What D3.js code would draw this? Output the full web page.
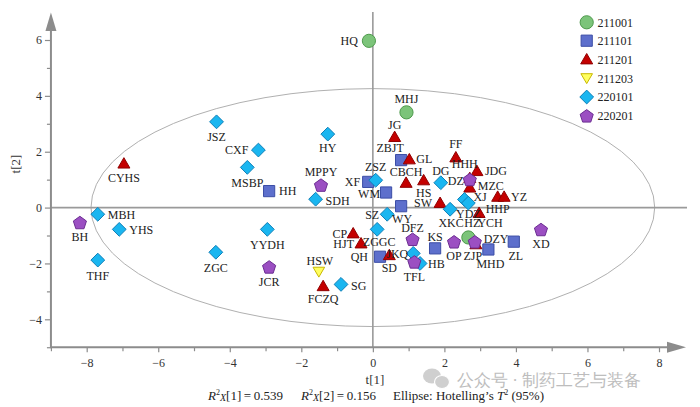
<!DOCTYPE html>
<html>
<head>
<meta charset="utf-8">
<script src="https://cdn.jsdelivr.net/npm/d3@7"></script>
<style>
  html, body { margin: 0; padding: 0; background: #fff; }
  svg { display: block; }
  text { font-family: "Liberation Serif", "Times New Roman", serif; }
</style>
</head>
<body>
<svg id="chart" width="700" height="407"></svg>
<script>
// ---------------- DATA ----------------
const seriesNames = ['211001', '211101', '211201', '211203', '220101', '220201'];

const n211001 = ['HQ', 'MHJ', 'HZ'];
const t1_211001 = [-0.11, 0.94, 2.67];
const t2_211001 = [5.97, 3.41, -1.07];

const n211101 = ['HH', 'XF', 'WM', 'ZBJT', 'WY', 'KS', 'QH', 'MHD', 'ZL'];
const t1_211101 = [-2.90, -0.13, 0.37, 0.79, 0.79, 1.74, 0.20, 3.23, 3.94];
const t2_211101 = [0.59, 0.92, 0.54, 1.70, 0.05, -1.46, -1.76, -1.50, -1.22];

const n211201 = ['CYHS', 'JG', 'GL', 'CBCH', 'HS', 'FF', 'HHH', 'JDG', 'MZC', 'HHP', 'YZ', 'SW', 'YCH', 'CP', 'HJT', 'SD', 'FCZQ', 'DZY'];
const t1_211201 = [-6.96, 0.61, 1.02, 0.93, 1.42, 2.32, 2.71, 2.91, 2.71, 3.49, 3.67, 1.88, 2.97, -0.55, -0.33, 0.46, -1.39, 2.88];
const t2_211201 = [1.58, 2.53, 1.73, 0.89, 0.98, 1.80, 1.06, 1.31, 0.72, 0.39, 0.39, 0.17, -0.19, -0.92, -1.28, -1.70, -2.81, -1.31];

const n211203 = ['HSW'];
const t1_211203 = [-1.51];
const t2_211203 = [-2.30];

const n220101 = ['JSZ', 'CXF', 'MSBP', 'HY', 'ZSZ', 'SDH', 'DG', 'XKC', 'XJ', 'YDZ', 'SZ', 'ZGGC', 'JKQ', 'HB', 'MBH', 'YHS', 'THF', 'ZGC', 'YYDH', 'SG'];
const t1_220101 = [-4.37, -3.20, -3.51, -1.26, 0.08, -1.60, 1.90, 2.16, 2.56, 2.67, 0.40, 0.12, 1.13, 1.32, -7.69, -7.09, -7.69, -4.39, -2.95, -0.89];
const t2_220101 = [3.07, 2.06, 1.44, 2.63, 0.98, 0.30, 0.89, -0.06, 0.29, 0.16, -0.24, -0.78, -1.64, -2.00, -0.24, -0.78, -1.88, -1.60, -0.78, -2.75];

const n220201 = ['BH', 'MPPY', 'DZ', 'DFZ', 'TFL', 'OP', 'ZJP', 'JCR', 'XD'];
const t1_220201 = [-8.19, -1.45, 2.71, 1.11, 1.16, 2.27, 2.85, -2.90, 4.70];
const t2_220201 = [-0.53, 0.81, 1.01, -1.13, -1.94, -1.22, -1.22, -2.12, -0.78];

const xTickLabels = [-8, -6, -4, -2, 0, 2, 4, 6, 8];
const yTickLabels = [-4, -2, 0, 2, 4, 6];

// Hotelling's T2 (95%) ellipse semi-axes (t[1], t[2])
const ellipseT1 = 7.88;
const ellipseT2 = 4.26;

const r2x1 = '0.539';
const r2x2 = '0.156';

// ---------------- LAYOUT (label placement: anchor, dx, dy in px) ----------------
const labelLayout = {
  HQ: ['end', -11, 0], MHJ: ['middle', 0, -14], HZ: ['middle', 4, -15],
  HH: ['start', 10, 0], XF: ['end', -8, 0], WM: ['end', -6, 1], ZBJT: ['middle', -11, -12],
  WY: ['middle', 1, 13], KS: ['middle', 0, -12], QH: ['end', -12, 0], MHD: ['middle', 2, 14], ZL: ['middle', 2, 14],
  CYHS: ['middle', 0, 14], JG: ['middle', 0, -12], GL: ['start', 7, -1], CBCH: ['middle', 0, -11],
  HS: ['middle', 0, 12], FF: ['middle', 0, -14], HHH: ['middle', -5, -14], JDG: ['start', 8, 0],
  MZC: ['start', 8, -2], HHP: ['middle', 0, 12], YZ: ['start', 7, 0], SW: ['end', -8, 0],
  YCH: ['middle', 11, 10], CP: ['end', -6, 0], HJT: ['end', -7, 0], SD: ['middle', 0, 13],
  FCZQ: ['middle', 0, 13], DZY: ['start', 8, -5],
  HSW: ['middle', 1, -11],
  JSZ: ['middle', 0, 15], CXF: ['end', -10, 0], MSBP: ['middle', 0, 15], HY: ['middle', 0, 14],
  ZSZ: ['middle', 0, -14], SDH: ['start', 10, 1], DG: ['middle', 0, -12], XKC: ['middle', 1, 13],
  XJ: ['start', 9, -3], YDZ: ['middle', 0, 11], SZ: ['end', -8, 0], ZGGC: ['middle', 2, 12],
  JKQ: ['end', -5, 0], HB: ['start', 8, 0], MBH: ['start', 10, 0], YHS: ['start', 10, 0],
  THF: ['middle', 0, 16], ZGC: ['middle', 0, 15], YYDH: ['middle', 0, 15], SG: ['start', 10, 1],
  BH: ['middle', 0, 14], MPPY: ['middle', 0, -13], DZ: ['end', -6, 1], DFZ: ['middle', 0, -11],
  TFL: ['middle', 0, 15], OP: ['middle', 0, 14], ZJP: ['middle', -2, 14], JCR: ['middle', 0, 15], XD: ['middle', 0, 14]
};

// ---------------- SETUP ----------------
const svg = d3.select('#chart');
const x = d3.scaleLinear().domain([-8, 8]).range([86.7, 659]);
const y = d3.scaleLinear().domain([-4, 6]).range([319.3, 40]);

const axisColor = '#8c8c8c';
const xAxisY = y(-5);
const yAxisX = x(-9);

// ellipse
svg.append('ellipse')
  .attr('cx', x(0)).attr('cy', y(0))
  .attr('rx', x(ellipseT1) - x(0))
  .attr('ry', y(0) - y(ellipseT2))
  .attr('fill', 'none').attr('stroke', '#b0b0b0').attr('stroke-width', 1);

// zero lines
svg.append('line').attr('x1', yAxisX).attr('x2', 687).attr('y1', y(0)).attr('y2', y(0))
  .attr('stroke', '#9a9a9a').attr('stroke-width', 1.6);
svg.append('line').attr('x1', x(0)).attr('x2', x(0)).attr('y1', 12).attr('y2', xAxisY)
  .attr('stroke', '#9a9a9a').attr('stroke-width', 1.6);

// axes
const minusFmt = d => (d < 0 ? '\u2212' + Math.abs(d) : String(d));

const gx = svg.append('g').attr('transform', `translate(0,${xAxisY})`)
  .call(d3.axisBottom(x).tickValues(xTickLabels).tickSize(5).tickPadding(6).tickFormat(minusFmt));
const gxm = svg.append('g').attr('transform', `translate(0,${xAxisY})`)
  .call(d3.axisBottom(x).tickValues([-9, -7, -5, -3, -1, 1, 3, 5, 7]).tickSize(4).tickFormat(''));
const gy = svg.append('g').attr('transform', `translate(${yAxisX},0)`)
  .call(d3.axisLeft(y).tickValues(yTickLabels).tickSize(6).tickPadding(3).tickFormat(minusFmt));
const gym = svg.append('g').attr('transform', `translate(${yAxisX},0)`)
  .call(d3.axisLeft(y).tickValues([-5, -3, -1, 1, 3, 5]).tickSize(4).tickFormat(''));

[gx, gxm, gy, gym].forEach(g => {
  g.select('.domain').remove();
  g.selectAll('.tick line').attr('stroke', axisColor).attr('stroke-width', 1.2);
  g.selectAll('.tick text').attr('fill', '#333').attr('font-size', 12)
    .attr('font-family', '"Liberation Serif", "Times New Roman", serif');
});

// axis lines with arrows
svg.append('line').attr('x1', yAxisX).attr('x2', 670).attr('y1', xAxisY).attr('y2', xAxisY)
  .attr('stroke', axisColor).attr('stroke-width', 2);
svg.append('path').attr('d', `M686,${xAxisY} L667,${xAxisY - 5.5} L667,${xAxisY + 5.5} Z`).attr('fill', axisColor);
svg.append('line').attr('x1', yAxisX).attr('x2', yAxisX).attr('y1', xAxisY + 1).attr('y2', 28)
  .attr('stroke', axisColor).attr('stroke-width', 2);
svg.append('path').attr('d', `M${yAxisX},12.5 L${yAxisX - 5.5},31 L${yAxisX + 5.5},31 Z`).attr('fill', axisColor);

// axis titles
svg.append('text').attr('x', 375).attr('y', 384).attr('text-anchor', 'middle')
  .attr('font-size', 13).attr('fill', '#333').text('t[1]');
svg.append('text').attr('transform', 'translate(20,164) rotate(-90)').attr('text-anchor', 'middle')
  .attr('font-size', 13).attr('fill', '#333').text('t[2]');

// ---------------- SHAPES ----------------
function pentagonPath(r) {
  const pts = d3.range(5).map(k => {
    const a = (-90 + k * 72) * Math.PI / 180;
    return [r * Math.cos(a), r * Math.sin(a) + 0.8];
  });
  return 'M' + pts.map(p => p.join(',')).join('L') + 'Z';
}
const styles = {
  '211001': { d: null, fill: '#7cc47a', stroke: '#4e9a4c' },
  '211101': { d: 'M-5.6,-5.6H5.6V5.6H-5.6Z', fill: '#5d6fcc', stroke: '#3c4ea6' },
  '211201': { d: 'M0,-5.8L6,4.6L-6,4.6Z', fill: '#c40000', stroke: '#900000' },
  '211203': { d: 'M0,5.3L5.8,-4.6L-5.8,-4.6Z', fill: '#ffff5e', stroke: '#c9b800' },
  '220101': { d: 'M0,-6.9L6.9,0L0,6.9L-6.9,0Z', fill: '#1ab6f0', stroke: '#0f80b8' },
  '220201': { d: pentagonPath(6.9), fill: '#9b4fc2', stroke: '#6c2e92' }
};
function drawMarker(g, s, cx, cy) {
  const st = styles[s];
  if (st.d === null) {
    g.append('circle').attr('cx', cx).attr('cy', cy).attr('r', 6.6)
      .attr('fill', st.fill).attr('stroke', st.stroke).attr('stroke-width', 1);
  } else {
    g.append('path').attr('d', st.d).attr('transform', `translate(${cx},${cy})`)
      .attr('fill', st.fill).attr('stroke', st.stroke).attr('stroke-width', 1);
  }
}

const groups = [
  ['211001', n211001, t1_211001, t2_211001],
  ['211101', n211101, t1_211101, t2_211101],
  ['211201', n211201, t1_211201, t2_211201],
  ['211203', n211203, t1_211203, t2_211203],
  ['220101', n220101, t1_220101, t2_220101],
  ['220201', n220201, t1_220201, t2_220201]
];

const gPts = svg.append('g');
const gLab = svg.append('g');
groups.forEach(([s, names, t1, t2]) => {
  names.forEach((nm, i) => {
    const cx = x(t1[i]), cy = y(t2[i]);
    drawMarker(gPts, s, cx, cy);
    const L = labelLayout[nm] || ['middle', 0, 14];
    gLab.append('text').attr('x', cx + L[1]).attr('y', cy + L[2] + 4.3)
      .attr('text-anchor', L[0]).attr('font-size', 12).attr('fill', '#222').text(nm);
  });
});

// ---------------- LEGEND ----------------
const legendY = [22.3, 40.7, 59.3, 78.3, 97, 115.7];
const gLeg = svg.append('g');
seriesNames.forEach((s, i) => {
  drawMarker(gLeg, s, 586.7, legendY[i]);
  gLeg.append('text').attr('x', 597.5).attr('y', legendY[i] + 4.3)
    .attr('font-size', 12).attr('fill', '#222').text(s);
});

// ---------------- FOOTER ----------------
function r2text(xpos, idx, val) {
  const t = svg.append('text').attr('x', xpos).attr('y', 400).attr('font-size', 13).attr('fill', '#222');
  t.append('tspan').attr('font-style', 'italic').text('R');
  t.append('tspan').attr('font-size', 8).attr('dy', -5).text('2');
  t.append('tspan').attr('font-size', 10).attr('font-style', 'italic').attr('dy', 6).text('X');
  t.append('tspan').attr('dy', -1).text(`[${idx}]\u2009=\u20090.${val.split('.')[1]}`);
}
r2text(208, 1, r2x1);
r2text(301, 2, r2x2);
const te = svg.append('text').attr('x', 393).attr('y', 400).attr('font-size', 13).attr('fill', '#222');
te.append('tspan').text('Ellipse: Hotelling\u2019s ');
te.append('tspan').attr('font-style', 'italic').text('T');
te.append('tspan').attr('font-size', 8).attr('dy', -5).text('2');
te.append('tspan').attr('dy', 5).text(' (95%)');

// watermark
const wm = svg.append('g').attr('opacity', 0.55);
wm.append('ellipse').attr('cx', 432).attr('cy', 376).attr('rx', 9).attr('ry', 7.5).attr('fill', '#a8a8a8');
wm.append('ellipse').attr('cx', 442).attr('cy', 382).attr('rx', 7.5).attr('ry', 6.5).attr('fill', '#a8a8a8').attr('stroke', '#fff').attr('stroke-width', 1.2);
svg.append('text').attr('x', 457).attr('y', 386).attr('font-size', 17)
  .attr('font-family', '"Noto Sans CJK SC", sans-serif').attr('fill', '#bdbdbd')
  .text('公众号 · 制药工艺与装备');
</script>
</body>
</html>
